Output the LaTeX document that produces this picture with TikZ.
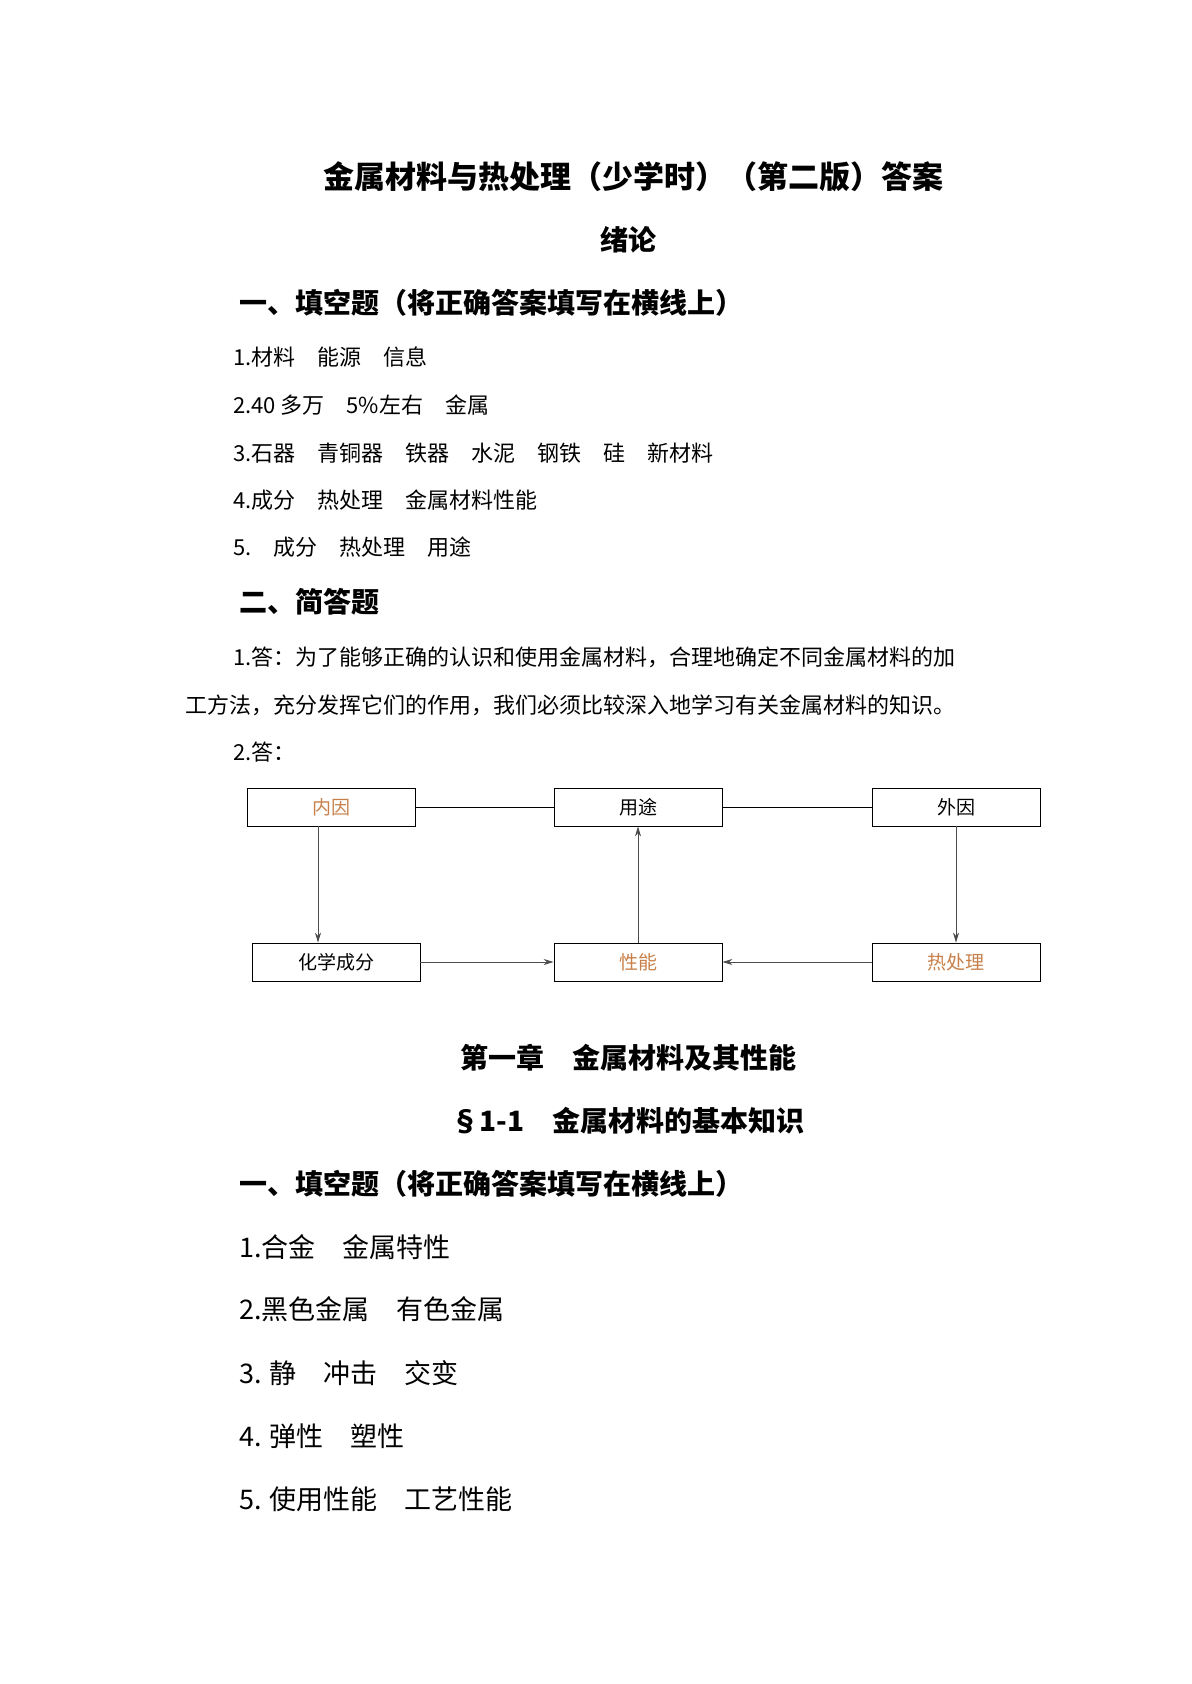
\documentclass[tikz,border=0pt]{standalone}
\usepackage{fontspec}
\setmainfont{Noto Sans CJK SC}
\usetikzlibrary{arrows.meta}
\definecolor{warm}{HTML}{C8804A}
\tikzset{
  box/.style={draw, minimum width=84pt, minimum height=19pt, inner sep=0pt, font=\fontsize{9.5}{11}\selectfont},
  head/.style={anchor=west, font=\fontsize{14}{16}\selectfont\bfseries},
  item/.style={anchor=west, font=\fontsize{11}{13}\selectfont},
  bigitem/.style={anchor=west, font=\fontsize{13.5}{16}\selectfont},
  link/.style={-{Stealth[length=5pt,width=3pt]}, gray!60!black}
}
\begin{document}
\begin{tikzpicture}[x=0.5pt,y=-0.5pt]
    \useasboundingbox (0,0) rectangle (1191,1684);

    \node[font=\fontsize{15.5}{18}\selectfont\bfseries] (title) at (633,177) {金属材料与热处理（少学时）（第二版）答案};
    \node[font=\fontsize{14}{16}\selectfont\bfseries] (intro) at (628,240) {绪论};
    \node[head] (h1) at (232,303) {一、填空题（将正确答案填写在横线上）};
    \node[item] (a1) at (226,357) {1.材料　能源　信息};
    \node[item] (a2) at (226,405) {2.40 多万　5\%左右　金属};
    \node[item] (a3) at (226,453) {3.石器　青铜器　铁器　水泥　钢铁　硅　新材料};
    \node[item] (a4) at (226,500) {4.成分　热处理　金属材料性能};
    \node[item] (a5) at (226,547) {5.　成分　热处理　用途};
    \node[head] (h2) at (232,602) {二、简答题};
    \node[item] (b1) at (226,657) {1.答：为了能够正确的认识和使用金属材料，合理地确定不同金属材料的加};
    \node[item] (b1b) at (178,705) {工方法，充分发挥它们的作用，我们必须比较深入地学习有关金属材料的知识。};
    \node[item] (b2) at (226,752) {2.答：};

    % diagram
    \node[box, text=warm] (inner) at (331,807) {内因};
    \node[box] (use) at (638,807) {用途};
    \node[box] (outer) at (956,807) {外因};
    \node[box] (chem) at (336,962) {化学成分};
    \node[box, text=warm] (prop) at (638,962) {性能};
    \node[box, text=warm] (heat) at (956,962) {热处理};

    \draw (inner) -- (use);
    \draw (use) -- (outer);
    \draw[link] (inner.south -| 318,0) -- (chem.north -| 318,0);
    \draw[link] (prop) -- (use);
    \draw[link] (outer) -- (heat);
    \draw[link] (chem) -- (prop);
    \draw[link] (heat) -- (prop);

    \node[font=\fontsize{14}{16}\selectfont\bfseries] (ch1) at (628,1058) {第一章　金属材料及其性能};
    \node[font=\fontsize{14}{16}\selectfont\bfseries] (sec) at (628,1121) {§1-1　金属材料的基本知识};
    \node[head] (h3) at (232,1184) {一、填空题（将正确答案填写在横线上）};
    \node[bigitem] (c1) at (232,1247) {1.合金　金属特性};
    \node[bigitem] (c2) at (232,1309) {2.黑色金属　有色金属};
    \node[bigitem] (c3) at (232,1373) {3. 静　冲击　交变};
    \node[bigitem] (c4) at (232,1436) {4. 弹性　塑性};
    \node[bigitem] (c5) at (232,1499) {5. 使用性能　工艺性能};
\end{tikzpicture}
\end{document}
